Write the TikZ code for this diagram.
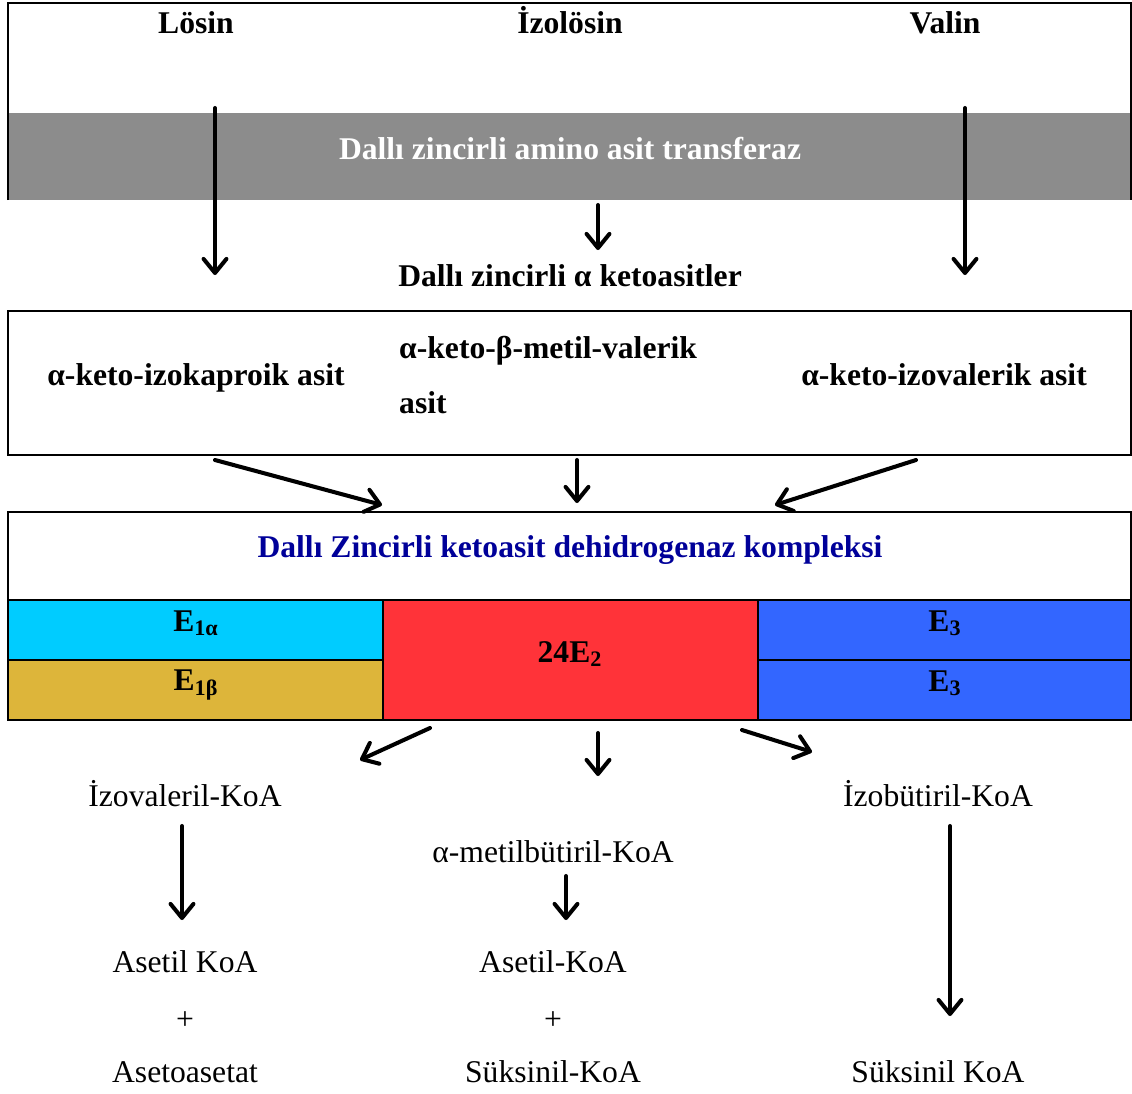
\documentclass[tikz,border=0pt]{standalone}
\usepackage{fontspec}
\setmainfont{Liberation Serif}
\usetikzlibrary{calc,arrows.meta}
\definecolor{bandgray}{RGB}{140,140,140}
\definecolor{ecyan}{RGB}{0,204,255}
\definecolor{egold}{RGB}{221,181,58}
\definecolor{ered}{RGB}{255,51,57}
\definecolor{eblue}{RGB}{51,102,255}
\definecolor{enavy}{RGB}{0,0,153}
\tikzset{arr/.style={line width=2.3pt, line cap=round, -{Straight Barb[length=8pt,width=13pt,round]}}}
\tikzset{frame/.style={line width=1.2pt}}
\tikzset{bold/.style={font=\fontsize{18}{22}\selectfont\bfseries, anchor=base}}
\tikzset{plain/.style={font=\fontsize{18}{22}\selectfont, anchor=base}}
\tikzset{cell/.style={draw, line width=1.2pt, minimum width=7.5cm, minimum height=1.2cm, inner sep=0pt, font=\fontsize{18}{22}\selectfont\bfseries}}

\begin{document}
\begin{tikzpicture}[x=0.02cm, y=-0.02cm]
        \useasboundingbox (0,0) rectangle (1132,1093);
        \pgfmathsetmacro{\lx}{8}
        \pgfmathsetmacro{\rx}{1131}
        \pgfmathsetmacro{\cx}{570}

        % amino acids and transferase
        \fill[bandgray] (\lx,113) rectangle (\rx,200);
        \draw[frame] (\lx,200) |- (\rx,3) -- (\rx,200);
        \node[bold] (losin) at (196,33) {Lösin};
        \node[bold] (izolosin) at (\cx,33) {İzolösin};
        \node[bold] (valin) at (945,33) {Valin};
        \node[bold, text=white] (bcat) at (\cx,159) {Dallı zincirli amino asit transferaz};
        \node[bold] (keto) at (\cx,286) {Dallı zincirli α ketoasitler};

        \coordinate (A1) at (215,108);
        \coordinate (A2) at (215,275);
        \coordinate (B1) at (598,205);
        \coordinate (B2) at (598,250);
        \coordinate (C1) at (965,108);
        \coordinate (C2) at (965,275);
        \draw[arr] (A1) -- (A2);
        \draw[arr] (B1) -- (B2);
        \draw[arr] (C1) -- (C2);

        % keto acids
        \draw[frame] (\lx,311) rectangle (\rx,455);
        \node[bold] (kic) at (196,385) {α-keto-izokaproik asit};
        \node[font=\fontsize{18}{31}\selectfont\bfseries, align=left, anchor=west] (kmv) at (393,375) {α-keto-β-metil-valerik\\asit};
        \node[bold] (kiv) at (944,385) {α-keto-izovalerik asit};

        \coordinate (D1) at (215,460);
        \coordinate (D2) at (382,505);
        \coordinate (E1) at (577,460);
        \coordinate (E2) at (577,503);
        \coordinate (F1) at (916,460);
        \coordinate (F2) at (775,505);
        \draw[arr] (D1) -- (D2);
        \draw[arr] (E1) -- (E2);
        \draw[arr] (F1) -- (F2);

        % dehydrogenase complex
        \node[bold, text=enavy] (bckdh) at (\cx,557) {Dallı Zincirli ketoasit dehidrogenaz kompleksi};
        \node[cell, fill=ecyan] (e1a) at (195.5,630) {};
        \node[cell, fill=egold] (e1b) at (195.5,690) {};
        \node[cell, fill=ered, minimum height=2.4cm] (e2) at (570.5,660) {};
        \node[cell, fill=eblue, minimum width=7.46cm] (e3a) at (944.5,630) {};
        \node[cell, fill=eblue, minimum width=7.46cm] (e3b) at (944.5,690) {};
        \draw[frame] (\lx,512) rectangle (\rx,720);
        \node[bold] at (196,631) {E\textsubscript{1α}};
        \node[bold] at (196,690) {E\textsubscript{1β}};
        \node[bold] at (570,662) {24E\textsubscript{2}};
        \node[bold] at (945,631) {E\textsubscript{3}};
        \node[bold] at (945,691) {E\textsubscript{3}};

        \coordinate (G1) at (430,728);
        \coordinate (G2) at (360,760);
        \coordinate (H1) at (598,733);
        \coordinate (H2) at (598,776);
        \coordinate (K1) at (742,730);
        \coordinate (K2) at (812,752);
        \draw[arr] (G1) -- (G2);
        \draw[arr] (H1) -- (H2);
        \draw[arr] (K1) -- (K2);

        % acyl-CoA products
        \node[plain] (ivcoa) at (185,806) {İzovaleril-KoA};
        \node[plain] (mbcoa) at (553,862) {α-metilbütiril-KoA};
        \node[plain] (ibcoa) at (938,806) {İzobütiril-KoA};
        \node[plain] (acoa1) at (185,972) {Asetil KoA};
        \node[plain] (plus1) at (185,1029) {+};
        \node[plain] (acac) at (185,1082) {Asetoasetat};
        \node[plain] (acoa2) at (553,972) {Asetil-KoA};
        \node[plain] (plus2) at (553,1029) {+};
        \node[plain] (scoa2) at (553,1082) {Süksinil-KoA};
        \node[plain] (scoa3) at (938,1082) {Süksinil KoA};

        \coordinate (M1) at (182,826);
        \coordinate (M2) at (182,920);
        \coordinate (N1) at (566,876);
        \coordinate (N2) at (566,920);
        \coordinate (P1) at (950,826);
        \coordinate (P2) at (950,1016);
        \draw[arr] (M1) -- (M2);
        \draw[arr] (N1) -- (N2);
        \draw[arr] (P1) -- (P2);
\end{tikzpicture}
\end{document}
